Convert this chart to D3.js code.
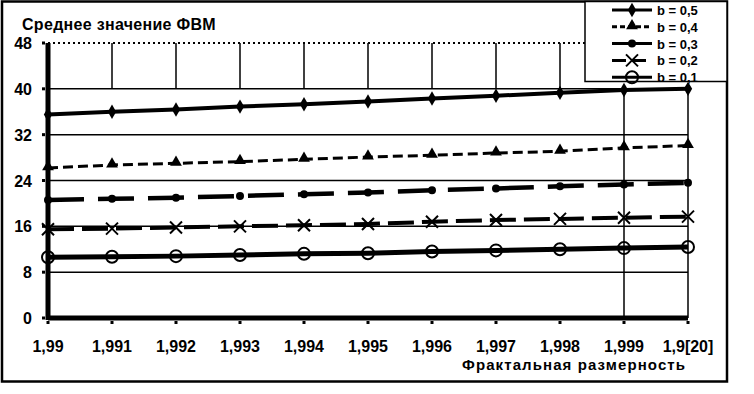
<!DOCTYPE html>
<html lang="ru">
<head>
<meta charset="utf-8">
<title>Среднее значение ФВМ</title>
<script src="https://d3js.org/d3.v7.min.js"></script>
<style>
  body { margin: 0; background: #fff; }
  text { font-family: "Liberation Sans", Arial, sans-serif; fill: #000; }
</style>
</head>
<body>
<script>
// Data
var xLabels = ["1,99", "1,991", "1,992", "1,993", "1,994", "1,995", "1,996", "1,997", "1,998", "1,999", "1,9[20]"];
var yTicks = [0, 8, 16, 24, 32, 40, 48];
var seriesNames = ["b = 0,5", "b = 0,4", "b = 0,3", "b = 0,2", "b = 0,1"];
var b05 = [35.5, 36.0, 36.4, 36.9, 37.3, 37.8, 38.3, 38.8, 39.3, 39.8, 40.0];
var b04 = [26.2, 26.7, 27.0, 27.3, 27.7, 28.1, 28.4, 28.8, 29.1, 29.7, 30.1];
var b03 = [20.6, 20.8, 21.0, 21.3, 21.6, 21.9, 22.3, 22.6, 23.0, 23.3, 23.6];
var b02 = [15.5, 15.6, 15.8, 16.0, 16.2, 16.4, 16.8, 17.1, 17.3, 17.5, 17.7];
var b01 = [10.6, 10.7, 10.8, 11.0, 11.2, 11.3, 11.6, 11.8, 12.0, 12.2, 12.4];

var w = 754, h = 394;
var svg = d3.select("body").append("svg").attr("width", w).attr("height", h);

// plot box
var pLeft = 48, pRight = 688, pTop = 43, pBottom = 318;

var x = d3.scalePoint().domain(d3.range(xLabels.length)).range([pLeft, pRight]);
var y = d3.scaleLinear().domain([0, 48]).range([pBottom, pTop]);

// outer frame
svg.append("rect").attr("x", 2).attr("y", 1.5).attr("width", 725).attr("height", 380)
  .attr("fill", "none").attr("stroke", "#000").attr("stroke-width", 2.5);

// horizontal grid
yTicks.filter(function(d){ return d > 0 && d < 48; }).forEach(function(d){
  svg.append("line").attr("x1", pLeft).attr("x2", pRight).attr("y1", y(d)).attr("y2", y(d))
    .attr("stroke", "#000").attr("stroke-width", 1.5);
});
// dotted top line
svg.append("line").attr("x1", pLeft).attr("x2", 585).attr("y1", y(48)).attr("y2", y(48))
  .attr("stroke", "#000").attr("stroke-width", 2).attr("stroke-dasharray", "2,3");

// vertical grid: top band only, last two run down the whole plot
d3.range(1, xLabels.length).forEach(function(i){
  var y1 = i >= 9 ? y(40) : y(48);
  var y2 = i >= 9 ? y(0) : y(40);
  svg.append("line").attr("x1", x(i)).attr("x2", x(i)).attr("y1", y1).attr("y2", y2)
    .attr("stroke", "#000").attr("stroke-width", 1.5);
});

// series
var series = [
  { name: seriesNames[0], values: b05, width: 4, dash: null, marker: "diamond", legendDash: null },
  { name: seriesNames[1], values: b04, width: 3, dash: "10,5", marker: "triangle", legendDash: "5,3" },
  { name: seriesNames[2], values: b03, width: 4.5, dash: "36,14", marker: "dot", legendDash: null },
  { name: seriesNames[3], values: b02, width: 4, dash: "26,8", marker: "x", legendDash: "14,6" },
  { name: seriesNames[4], values: b01, width: 5, dash: null, marker: "circle", legendDash: null }
];

var line = d3.line().x(function(d, i){ return x(i); }).y(function(d){ return y(d); });

function drawMarker(g, type, cx, cy) {
  if (type === "diamond") {
    g.append("path").attr("d", d3.symbol(d3.symbolDiamond, 60)()).attr("transform", "translate(" + cx + "," + cy + ")").attr("fill", "#000");
  } else if (type === "triangle") {
    g.append("path").attr("d", d3.symbol(d3.symbolTriangle, 60)()).attr("transform", "translate(" + cx + "," + (cy - 1) + ")").attr("fill", "#000");
  } else if (type === "dot") {
    g.append("circle").attr("cx", cx).attr("cy", cy).attr("r", 4).attr("fill", "#000");
  } else if (type === "x") {
    g.append("path").attr("d", "M-6,-6L6,6M-6,6L6,-6").attr("transform", "translate(" + cx + "," + cy + ")")
      .attr("stroke", "#000").attr("stroke-width", 2).attr("fill", "none");
  } else if (type === "circle") {
    g.append("circle").attr("cx", cx).attr("cy", cy).attr("r", 6).attr("fill", "none").attr("stroke", "#000").attr("stroke-width", 2);
  }
}

series.forEach(function(s){
  svg.append("path").datum(s.values).attr("d", line)
    .attr("fill", "none").attr("stroke", "#000").attr("stroke-width", s.width)
    .attr("stroke-dasharray", s.dash);
  var g = svg.append("g");
  s.values.forEach(function(v, i){ drawMarker(g, s.marker, x(i), y(v)); });
});

// axes
svg.append("line").attr("x1", pLeft).attr("x2", pLeft).attr("y1", pTop).attr("y2", pBottom + 2)
  .attr("stroke", "#000").attr("stroke-width", 5);
svg.append("line").attr("x1", pLeft).attr("x2", pRight).attr("y1", pBottom).attr("y2", pBottom)
  .attr("stroke", "#000").attr("stroke-width", 5);

// tick dots
yTicks.forEach(function(d){
  svg.append("rect").attr("x", pLeft - 6).attr("y", y(d) - 1.5).attr("width", 3).attr("height", 3).attr("fill", "#000");
});
xLabels.forEach(function(d, i){
  svg.append("rect").attr("x", x(i) - 1.5).attr("y", pBottom + 3).attr("width", 3).attr("height", 3).attr("fill", "#000");
});

// tick labels
svg.selectAll(".ylab").data(yTicks).enter().append("text")
  .attr("x", 32).attr("y", function(d){ return y(d) + 6; })
  .attr("text-anchor", "end").attr("font-size", "16px").attr("font-weight", "bold")
  .text(function(d){ return d; });

svg.selectAll(".xlab").data(xLabels).enter().append("text")
  .attr("x", function(d, i){ return x(i); }).attr("y", 352)
  .attr("text-anchor", "middle").attr("font-size", "16px").attr("font-weight", "bold")
  .text(function(d){ return d; });

// titles
svg.append("text").attr("x", 22).attr("y", 30).attr("font-size", "16px").attr("font-weight", "bold")
  .attr("letter-spacing", "0.3px").text("Среднее значение ФВМ");
svg.append("text").attr("x", 462).attr("y", 370)
  .attr("font-size", "15px").attr("font-weight", "bold").attr("letter-spacing", "1px")
  .attr("textLength", 224).text("Фрактальная размерность");

// legend
var lg = svg.append("g");
lg.append("rect").attr("x", 585).attr("y", 1.5).attr("width", 142).attr("height", 80)
  .attr("fill", "#fff").attr("stroke", "#000").attr("stroke-width", 1.5);
series.forEach(function(s, i){
  var ly = 10 + i * 16.8;
  lg.append("line").attr("x1", 612).attr("x2", 652).attr("y1", ly).attr("y2", ly)
    .attr("stroke", "#000").attr("stroke-width", 3)
    .attr("stroke-dasharray", s.legendDash);
  drawMarker(lg, s.marker, 632, ly);
  lg.append("text").attr("x", 657).attr("y", ly + 5).attr("font-size", "13px").attr("font-weight", "bold").text(s.name);
});
</script>
</body>
</html>
